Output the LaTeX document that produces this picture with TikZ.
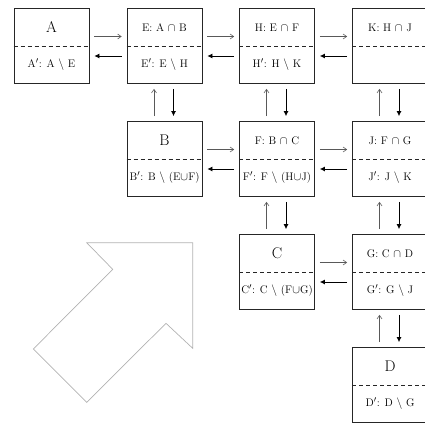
\documentclass[tikz,border=0pt]{standalone}
\usepackage{mathpazo}
\usetikzlibrary{arrows.meta}
\tikzset{
  setbox/.style={draw=black!85, line width=0.8pt, minimum width=75pt, minimum height=75pt, inner sep=0pt},
  big/.style={font=\fontsize{15.5}{18}\selectfont, text=black, inner sep=0pt},
  small/.style={font=\fontsize{11}{13}\selectfont, text=black, inner sep=0pt},
  splitline/.style={draw=black!85, line width=0.7pt, dash pattern=on 4pt off 3pt},
  fwd/.style={draw=black!65, line width=0.6pt, -{Straight Barb[length=3.5pt,width=5pt]}, shorten <=5pt, shorten >=5pt},
  bwd/.style={draw=black, line width=0.8pt, -{Latex[length=5pt,width=5pt]}, shorten <=5pt, shorten >=5pt},
  bigarrow/.style={draw=black!30, line width=0.7pt}
}
\begin{document}
\begin{tikzpicture}[x=1pt,y=-1pt]
\useasboundingbox (0,0) rectangle (425,423);
% boxes
\node[setbox] (A) at (51.5,46) {};
\node[setbox] (E) at (164.5,46) {};
\node[setbox] (H) at (277,46) {};
\node[setbox] (K) at (390,46) {};
\node[setbox] (B) at (164.5,159) {};
\node[setbox] (F) at (277,159) {};
\node[setbox] (J) at (390,159) {};
\node[setbox] (C) at (277,272) {};
\node[setbox] (G) at (390,272) {};
\node[setbox] (D) at (390,385) {};
\foreach \n in {A,E,H,K,B,F,J,C,G,D}{
  \draw[splitline] (\n.west) -- (\n.east);
}
% texts
\node[big]   (At) at ([yshift=18.5pt]A.center) {A};
\node[small] (Ab) at ([yshift=-18.5pt]A.center) {A$'$: A $\setminus$ E};
\node[small] (Et) at ([yshift=18.5pt]E.center) {E: A $\cap$ B};
\node[small] (Eb) at ([yshift=-18.5pt]E.center) {E$'$: E $\setminus$ H};
\node[small] (Ht) at ([yshift=18.5pt]H.center) {H: E $\cap$ F};
\node[small] (Hb) at ([yshift=-18.5pt]H.center) {H$'$: H $\setminus$ K};
\node[small] (Kt) at ([yshift=18.5pt]K.center) {K: H $\cap$ J};
\node[big]   (Bt) at ([yshift=18.5pt]B.center) {B};
\node[small] (Bb) at ([yshift=-18.5pt]B.center) {B$'$: B $\setminus$ (E$\cup$F)};
\node[small] (Ft) at ([yshift=18.5pt]F.center) {F: B $\cap$ C};
\node[small] (Fb) at ([yshift=-18.5pt]F.center) {F$'$: F $\setminus$ (H$\cup$J)};
\node[small] (Jt) at ([yshift=18.5pt]J.center) {J: F $\cap$ G};
\node[small] (Jb) at ([yshift=-18.5pt]J.center) {J$'$: J $\setminus$ K};
\node[big]   (Ct) at ([yshift=18.5pt]C.center) {C};
\node[small] (Cb) at ([yshift=-18.5pt]C.center) {C$'$: C $\setminus$ (F$\cup$G)};
\node[small] (Gt) at ([yshift=18.5pt]G.center) {G: C $\cap$ D};
\node[small] (Gb) at ([yshift=-18.5pt]G.center) {G$'$: G $\setminus$ J};
\node[big]   (Dt) at ([yshift=18.5pt]D.center) {D};
\node[small] (Db) at ([yshift=-18.5pt]D.center) {D$'$: D $\setminus$ G};
% horizontal arrows
\foreach \a/\b in {A/E,E/H,H/K,B/F,F/J,C/G}{
  \draw[fwd] ([yshift=9.5pt]\a.east) -- ([yshift=9.5pt]\b.west);
  \draw[bwd] ([yshift=-10pt]\b.west) -- ([yshift=-10pt]\a.east);
}
% vertical arrows
\foreach \a/\b in {E/B,H/F,K/J,F/C,J/G,G/D}{
  \draw[fwd] ([xshift=-10.5pt]\b.north) -- ([xshift=-10.5pt]\a.south);
  \draw[bwd] ([xshift=9pt]\a.south) -- ([xshift=9pt]\b.north);
}
% big hollow arrow
\draw[bigarrow] (86.7,242.7) -- (192.7,242.7) -- (192.7,348.3) -- (166,323.3)
  -- (86.7,402.3) -- (33.3,349) -- (112.7,269.3) -- cycle;
\end{tikzpicture}
\end{document}
